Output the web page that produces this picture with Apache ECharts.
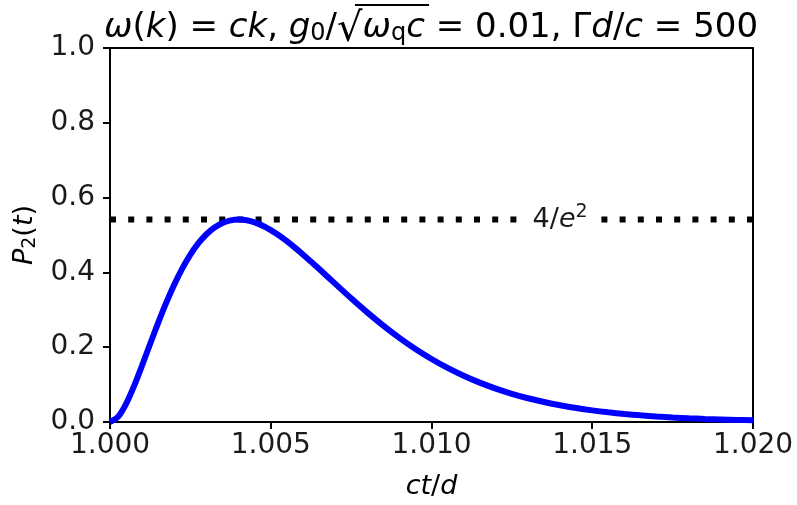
<!DOCTYPE html>
<html><head><meta charset="utf-8">
<script src="https://cdn.jsdelivr.net/npm/echarts@6/dist/echarts.min.js"></script>
<style>html,body{margin:0;padding:0;background:#fff}#c{width:797px;height:505px}</style>
</head><body><div id="c"></div>
<script>
// ct/d values
const xValues = [1.0000,1.00025,1.0005,1.00075,1.0010,1.00125,1.0015,1.00175,1.0020,1.00225,1.0025,1.00275,1.0030,1.00325,1.0035,1.00375,1.0040,1.00425,1.0045,1.00475,1.0050,1.00525,1.0055,1.00575,1.0060,1.0065,1.0070,1.0075,1.0080,1.0085,1.0090,1.0095,1.0100,1.0105,1.0110,1.0115,1.0120,1.0125,1.0130,1.0135,1.0140,1.0145,1.0150,1.0155,1.0160,1.0165,1.0170,1.0175,1.0180,1.0185,1.0190,1.0195,1.0200];
// P2(t) values
const pValues = [0,0.0138,0.0487,0.0967,0.1516,0.2091,0.2657,0.3192,0.3679,0.4109,0.4477,0.4780,0.5020,0.5200,0.5322,0.5391,0.5413,0.5393,0.5336,0.5247,0.5130,0.4992,0.4835,0.4663,0.4481,0.4096,0.3699,0.3307,0.2931,0.2577,0.2250,0.1952,0.1685,0.1446,0.1236,0.1052,0.0892,0.0754,0.0635,0.0534,0.0447,0.0373,0.0311,0.0259,0.0215,0.0178,0.0147,0.0121,0.0100,0.0082,0.0068,0.0055,0.0045];
const refLevel = 0.5413;      // 4/e^2
const refLabelX = 1.0140;
const xTicks = [1.000,1.005,1.010,1.015,1.020];
const yTicks = [0.0,0.2,0.4,0.6,0.8,1.0];

const FONT = 'DejaVu Sans';
const chart = echarts.init(document.getElementById('c'), null, {renderer:'canvas'});
const mathRich = {
  i:{fontStyle:'italic', fontFamily:FONT, fontSize:27, color:'#000'},
  s:{fontFamily:FONT, fontSize:19, color:'#000', padding:[10,0,0,0]}
};
chart.setOption({
  animation:false,
  backgroundColor:'#fff',
  title:{
    text:'{i|ω}({i|k}) = {i|ck}, {i|g}{s|0}/{r|√}{i|ω}{s|q}{i|c} = 0.01, Γ{i|d}/{i|c} = 500',
    left:426, top:0, textAlign:'center',
    textStyle:{fontFamily:FONT, fontSize:34, fontWeight:'normal', color:'#000', rich:{
      i:{fontStyle:'italic', fontFamily:FONT, fontSize:34, color:'#000'},
      s:{fontFamily:FONT, fontSize:24, color:'#000', padding:[12,0,0,0]},
      r:{fontFamily:FONT, fontSize:40, color:'#000', padding:[6,0,0,0]}
    }}
  },
  grid:{left:110, right:44, top:48, bottom:81, show:true, borderColor:'#000', borderWidth:2, backgroundColor:'transparent'},
  xAxis:{
    type:'value', min:1.0, max:1.02, interval:0.005,
    name:'{i|ct}/{i|d}', nameLocation:'middle', nameGap:51,
    nameTextStyle:{fontFamily:FONT, fontSize:27, color:'#000', rich:mathRich},
    axisLine:{lineStyle:{color:'#000', width:2}},
    axisTick:{show:true, length:7, lineStyle:{color:'#000', width:2}},
    splitLine:{show:false},
    axisLabel:{fontFamily:FONT, fontSize:28, color:'#1a1a1a', margin:10,
      formatter:v=>{const t=xTicks.find(a=>Math.abs(a-v)<1e-9);return t!==undefined?t.toFixed(3):'';}}
  },
  yAxis:{
    type:'value', min:0, max:1.0, interval:0.2,
    name:'{i|P}{s|2}({i|t})', nameLocation:'middle', nameGap:63, nameRotate:90,
    nameTextStyle:{fontFamily:FONT, fontSize:27, color:'#000', rich:mathRich},
    axisLine:{lineStyle:{color:'#000', width:2}},
    axisTick:{show:true, length:7, lineStyle:{color:'#000', width:2}},
    splitLine:{show:false},
    axisLabel:{fontFamily:FONT, fontSize:28, color:'#1a1a1a', margin:15,
      formatter:v=>{const t=yTicks.find(a=>Math.abs(a-v)<1e-9);return t!==undefined?t.toFixed(1):'';}}
  },
  series:[
    {type:'line', data:[[xTicks[0],refLevel],[xTicks[xTicks.length-1],refLevel]], symbol:'none',
     lineStyle:{color:'#000', width:6, type:[6,12.2], cap:'butt'}, z:2,
     markPoint:{symbol:'rect', symbolSize:[80,36], silent:true, z:5,
       itemStyle:{color:'#fff'},
       data:[{coord:[refLabelX,refLevel]}],
       label:{show:true, position:'inside', formatter:'{n|4/}{i|e}{p|2}',
         rich:{n:{fontFamily:FONT, fontSize:27, color:'#1a1a1a'},
               i:{fontStyle:'italic', fontFamily:FONT, fontSize:27, color:'#1a1a1a'},
               p:{fontFamily:FONT, fontSize:19, color:'#1a1a1a', padding:[0,0,14,0]}}}}},
    {type:'line', data:xValues.map((x,i)=>[x,pValues[i]]), symbol:'none', smooth:0.3,
     lineStyle:{color:'#0000ff', width:6}, z:3}
  ],
  graphic:[
    {type:'line', shape:{x1:355, y1:5, x2:429, y2:5}, style:{stroke:'#000', lineWidth:2}, silent:true}
  ]
});
</script></body></html>
